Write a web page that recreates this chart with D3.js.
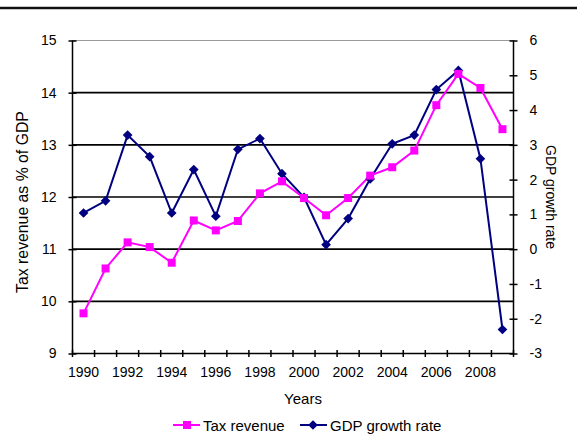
<!DOCTYPE html>
<html>
<head>
<meta charset="utf-8">
<script src="https://cdn.jsdelivr.net/npm/d3@7"></script>
<style>
  html, body { margin: 0; padding: 0; background: #fff; }
  svg { display: block; font-family: "Liberation Sans", Arial, sans-serif; }
</style>
</head>
<body>
<svg id="chart" width="577" height="441"></svg>
<script>
// Years on the category axis
const years = [1990, 1991, 1992, 1993, 1994, 1995, 1996, 1997, 1998, 1999,
               2000, 2001, 2002, 2003, 2004, 2005, 2006, 2007, 2008, 2009];
// Tax revenue as % of GDP (left axis)
const taxRevenue = [9.77, 10.63, 11.13, 11.04, 10.74, 11.55, 11.36, 11.54, 12.07, 12.30,
                    11.98, 11.65, 11.98, 12.41, 12.57, 12.89, 13.76, 14.36, 14.09, 13.30];
// GDP growth rate, % (right axis)
const gdpGrowth = [1.04, 1.39, 3.28, 2.66, 1.04, 2.29, 0.95, 2.87, 3.18, 2.17,
                   1.49, 0.13, 0.88, 2.02, 3.03, 3.28, 4.59, 5.14, 2.60, -2.31];
// Axis tick labels
const leftTicks = [9, 10, 11, 12, 13, 14, 15];
const rightTicks = [-3, -2, -1, 0, 1, 2, 3, 4, 5, 6];
const yearLabels = [1990, 1992, 1994, 1996, 1998, 2000, 2002, 2004, 2006, 2008];

const svg = d3.select("#chart");
const plotL = 72.5, plotR = 513.5, plotT = 40.5, plotB = 353.5;
const fs = 14;
const plain = d => String(d);

const x = d3.scaleBand().domain(years).range([plotL, plotR]).padding(0);
const cx = d => x(d) + x.bandwidth() / 2;
const yL = d3.scaleLinear().domain([9, 15]).range([plotB, plotT]);
const yR = d3.scaleLinear().domain([-3, 6]).range([plotB, plotT]);

// Header rule
svg.append("line").attr("x1", 0).attr("x2", 577).attr("y1", 8).attr("y2", 8)
  .attr("stroke", "#111").attr("stroke-width", 2.5);

// Plot frame top edge
svg.append("line").attr("x1", plotL).attr("x2", plotR).attr("y1", yL(15)).attr("y2", yL(15))
  .attr("stroke", "#9a9a9a").attr("stroke-width", 1);

// Horizontal gridlines
svg.append("g").selectAll("line").data(leftTicks.filter(v => v > 9 && v < 15)).join("line")
  .attr("x1", plotL).attr("x2", plotR)
  .attr("y1", d => yL(d)).attr("y2", d => yL(d))
  .attr("stroke", "#000").attr("stroke-width", 1.6);

// Left axis
const axL = svg.append("g").attr("transform", `translate(${plotL},0)`)
  .call(d3.axisLeft(yL).tickValues(leftTicks).tickFormat(plain).tickSize(4).tickPadding(12));
axL.selectAll(".tick line").attr("x2", -4).attr("x1", 4).attr("stroke", "#000").attr("stroke-width", 1.5);
axL.select(".domain").attr("stroke", "#000").attr("stroke-width", 1.5).attr("d", `M0,${plotT}V${plotB}`);

// Right axis (labels left-aligned)
const axR = svg.append("g").attr("transform", `translate(${plotR},0)`)
  .call(d3.axisRight(yR).tickValues(rightTicks).tickFormat(plain).tickSize(4).tickPadding(12));
axR.selectAll(".tick line").attr("x1", -4).attr("x2", 4).attr("stroke", "#000").attr("stroke-width", 1.5);
axR.select(".domain").attr("stroke", "#000").attr("stroke-width", 1.5).attr("d", `M0,${plotT}V${plotB}`);

// Bottom axis: ticks at category boundaries, labels on every other year
const xEdges = years.map(d => x(d)).concat([x(years[years.length - 1]) + x.bandwidth()]);
const axB = svg.append("g");
axB.append("line").attr("x1", plotL).attr("x2", plotR).attr("y1", plotB).attr("y2", plotB)
  .attr("stroke", "#000").attr("stroke-width", 1.5);
axB.selectAll("line.tk").data(xEdges).join("line").attr("class", "tk")
  .attr("x1", d => d).attr("x2", d => d).attr("y1", plotB - 3.5).attr("y2", plotB + 3.5)
  .attr("stroke", "#000").attr("stroke-width", 1.5);
axB.selectAll("text").data(yearLabels).join("text")
  .attr("x", d => cx(d)).attr("y", plotB + 23.5)
  .attr("text-anchor", "middle").attr("font-size", fs).attr("fill", "#000")
  .text(d => d);

svg.selectAll(".tick text").attr("font-size", fs).attr("fill", "#000")
  .attr("font-family", "Liberation Sans, Arial, sans-serif");

// Axis titles
svg.append("text").attr("transform", "translate(28,202) rotate(-90)")
  .attr("text-anchor", "middle").attr("font-size", 15.8).text("Tax revenue as % of GDP");
svg.append("text").attr("transform", "translate(546,197) rotate(90)")
  .attr("text-anchor", "middle").attr("font-size", 14).text("GDP growth rate");
svg.append("text").attr("x", 303).attr("y", 404)
  .attr("text-anchor", "middle").attr("font-size", 15).text("Years");

// Series
const taxColor = "#ff00ff", gdpColor = "#000080";
const taxLine = d3.line().x((d, i) => cx(years[i])).y(d => yL(d));
const gdpLine = d3.line().x((d, i) => cx(years[i])).y(d => yR(d));

svg.append("path").datum(gdpGrowth).attr("d", gdpLine)
  .attr("fill", "none").attr("stroke", gdpColor).attr("stroke-width", 2);
svg.append("path").datum(taxRevenue).attr("d", taxLine)
  .attr("fill", "none").attr("stroke", taxColor).attr("stroke-width", 2);

const sq = d3.symbol().type(d3.symbolSquare).size(64);
const dm = d3.symbol().type(d3.symbolDiamond2).size(60);

svg.append("g").selectAll("path").data(gdpGrowth).join("path")
  .attr("d", dm).attr("fill", gdpColor)
  .attr("transform", (d, i) => `translate(${cx(years[i])},${yR(d)})`);
svg.append("g").selectAll("path").data(taxRevenue).join("path")
  .attr("d", sq).attr("fill", taxColor)
  .attr("transform", (d, i) => `translate(${cx(years[i])},${yL(d)})`);

// Legend
const lg = svg.append("g").attr("transform", "translate(0,425)");
lg.append("line").attr("x1", 173).attr("x2", 200).attr("y1", 0).attr("y2", 0)
  .attr("stroke", taxColor).attr("stroke-width", 2);
lg.append("path").attr("d", sq).attr("fill", taxColor).attr("transform", "translate(187,0)");
lg.append("text").attr("x", 203).attr("y", 5.5).attr("font-size", 15).text("Tax revenue");
lg.append("line").attr("x1", 300).attr("x2", 327).attr("y1", 0).attr("y2", 0)
  .attr("stroke", gdpColor).attr("stroke-width", 2);
lg.append("path").attr("d", dm).attr("fill", gdpColor).attr("transform", "translate(313,0)");
lg.append("text").attr("x", 330).attr("y", 5.5).attr("font-size", 15).text("GDP growth rate");
</script>
</body>
</html>
